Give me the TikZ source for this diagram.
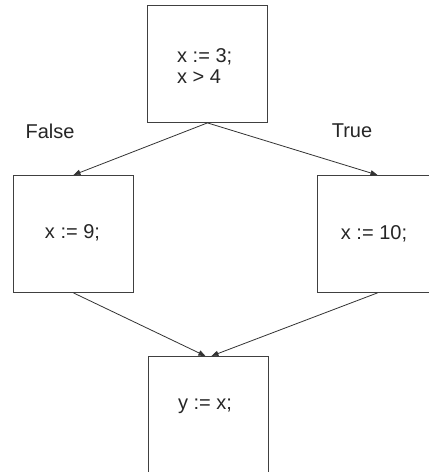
\documentclass[tikz,border=0pt]{standalone}
\usepackage{fontspec}
\setmainfont{Liberation Sans}
\usetikzlibrary{arrows.meta}
\tikzset{
  blk/.style={draw=black!75, line width=0.9pt, minimum width=120pt, minimum height=117pt, inner sep=0pt, anchor=north west},
  txt/.style={font=\fontsize{20}{21}\selectfont, text=black!85, inner sep=0pt, align=left},
  conn/.style={draw=black!80, line width=0.8pt, -{Triangle[length=7pt,width=5.5pt]}},
}
\begin{document}
\begin{tikzpicture}[x=1pt,y=-1pt]
\clip (0,0) rectangle (429,472);
\fill[white] (0,0) rectangle (429,472);
\node[blk] (top) at (147,5) {};
\node[blk] (left) at (13,175) {};
\node[blk] (right) at (317,175) {};
\node[blk] (bot) at (148,356) {};
\node[txt, anchor=west] (toptxt) at (177,66) {x := 3;\\x > 4};
\node[txt] (lefttxt) at (72.5,233) {x := 9;};
\node[txt] (righttxt) at (374,234) {x := 10;};
\node[txt] (bottxt) at (205,406) {y := x;};
\node[txt] (false) at (50,131) {False};
\node[txt] (true) at (352,131) {True};
\draw[conn] (top.south) -- (left.north);
\draw[conn] (top.south) -- (right.north);
\draw[conn] (left.south) -- ([xshift=-3pt]bot.north);
\draw[conn] (right.south) -- ([xshift=3pt]bot.north);
\end{tikzpicture}
\end{document}
